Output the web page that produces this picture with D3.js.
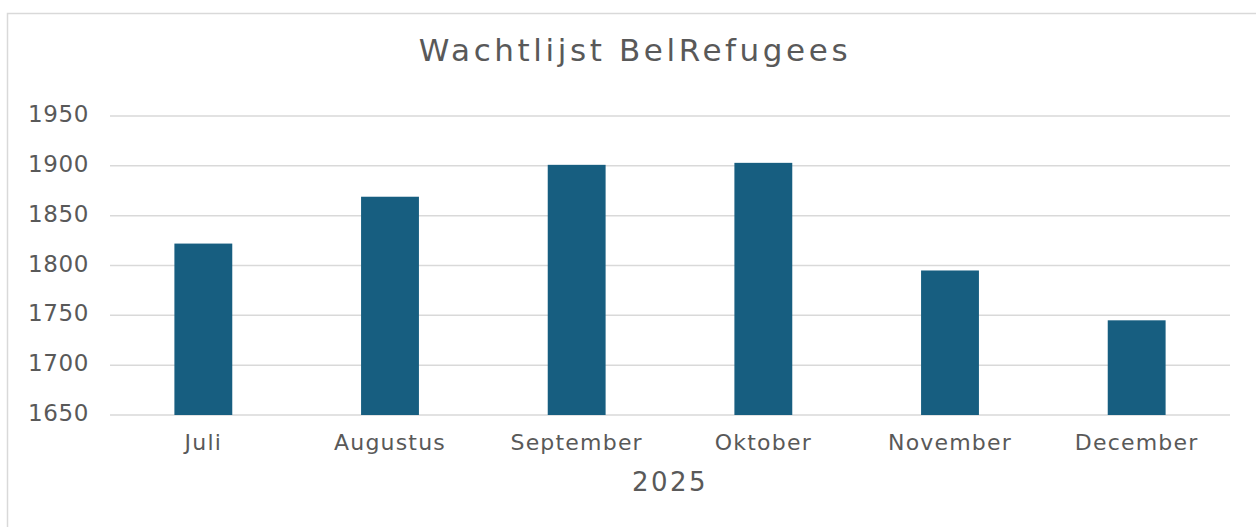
<!DOCTYPE html>
<html>
<head>
<meta charset="utf-8">
<script src="https://cdn.jsdelivr.net/npm/d3@7"></script>
<style>
  html, body { margin: 0; padding: 0; background: #fff; }
  svg { display: block; }
  text { font-family: "DejaVu Sans", sans-serif; fill: #595959; }
</style>
</head>
<body>
<svg id="chart" width="1256" height="527"></svg>
<script>
const categories = ["Juli", "Augustus", "September", "Oktober", "November", "December"];
const values = [1822, 1869, 1901, 1903, 1795, 1745];
const yTicks = [1650, 1700, 1750, 1800, 1850, 1900, 1950];
const chartTitle = "Wachtlijst BelRefugees";
const xAxisTitle = "2025";

const svg = d3.select("#chart");
const W = 1256, H = 527;
const mLeft = 110, mRight = 1230, mTop = 116, mBottom = 415;

// frame
svg.append("rect").attr("x", 7.5).attr("y", 13.5).attr("width", W + 10).attr("height", H + 10)
  .attr("fill", "#fff").attr("stroke", "#d9d9d9").attr("stroke-width", 1.5);

const x = d3.scaleBand().domain(categories).range([mLeft, mRight]).paddingInner(0.69).paddingOuter(0.345);
const y = d3.scaleLinear().domain([1650, 1950]).range([mBottom, mTop]);

// gridlines
svg.append("g").selectAll("line").data(yTicks).join("line")
  .attr("x1", mLeft).attr("x2", mRight)
  .attr("y1", d => y(d)).attr("y2", d => y(d))
  .attr("stroke", "#d9d9d9").attr("stroke-width", 1.5);

// bars
svg.append("g").selectAll("rect").data(values).join("rect")
  .attr("x", (d, i) => x(categories[i]))
  .attr("width", x.bandwidth())
  .attr("y", d => y(d))
  .attr("height", d => y(1650) - y(d))
  .attr("fill", "#175e80");

// y axis labels
const yAxis = d3.axisLeft(y).tickValues(yTicks).tickSize(0).tickPadding(0).tickFormat(d3.format("d"));
const gy = svg.append("g").attr("transform", `translate(89,0)`).call(yAxis);
gy.select(".domain").remove();
gy.selectAll("text").attr("font-size", 23).attr("font-family", null).attr("fill", "#595959")
  .attr("dy", "0.24em").attr("letter-spacing", 0.6);

// x axis labels
const xAxis = d3.axisBottom(x).tickSize(0).tickPadding(0);
const gx = svg.append("g").attr("transform", `translate(0,${mBottom})`).call(xAxis);
gx.select(".domain").remove();
gx.selectAll("text").attr("font-size", 22).attr("font-family", null).attr("fill", "#595959")
  .attr("dy", null).attr("y", 35).attr("letter-spacing", 1.2);

// titles
svg.append("text").attr("x", 635).attr("y", 61).attr("text-anchor", "middle")
  .attr("font-size", 31).attr("letter-spacing", 3.6).text(chartTitle);
svg.append("text").attr("x", 670).attr("y", 491).attr("text-anchor", "middle")
  .attr("font-size", 26).attr("letter-spacing", 2.5).text(xAxisTitle);
</script>
</body>
</html>
